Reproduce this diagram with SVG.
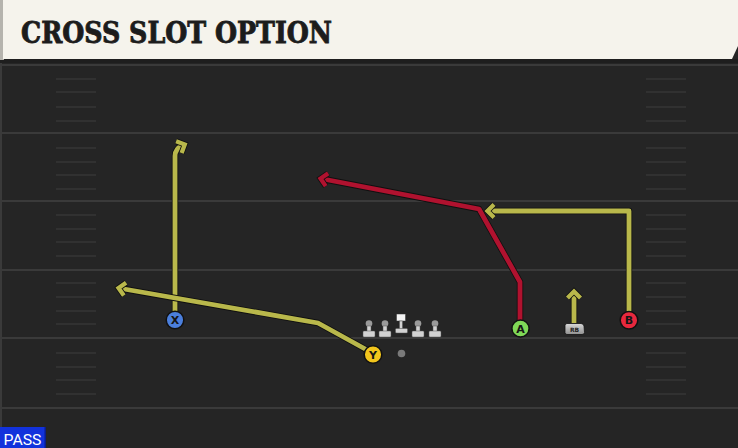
<svg xmlns="http://www.w3.org/2000/svg" width="738" height="448" viewBox="0 0 738 448">
  <style>
    .yard { stroke: #3a3a3a; stroke-width: 2; }
    .hash { stroke: #363636; stroke-width: 1.5; }
    .outline { fill: none; stroke: #101010; stroke-width: 6.4; stroke-linejoin: round; }
    .yel { fill: none; stroke: #b9b84b; stroke-width: 4.8; stroke-linejoin: round; }
    .red { fill: none; stroke: #b0122f; stroke-width: 4.8; stroke-linejoin: round; }
    .pl { stroke: #111; stroke-width: 1.5; }
    .plt { font-family: "DejaVu Sans", "Liberation Sans", sans-serif; font-weight: bold; font-size: 11px; fill: #151515; text-anchor: middle; }
    .lm-head { fill: #9a9a9a; }
    .lm-body { fill: #d2d2d2; stroke: #555; stroke-width: 0.5; }
    .mk-o { fill: none; stroke: #101010; stroke-width: 6; stroke-linejoin: miter; }
  </style>
  <defs>
    <marker id="arrY" markerUnits="userSpaceOnUse" viewBox="-12 -12 24 24" refX="0" refY="0" markerWidth="24" markerHeight="24" orient="auto" overflow="visible">
      <path class="mk-o" d="M-4,-6.5 L2.5,0 L-4,6.5"/>
      <path d="M-4,-6.5 L2.5,0 L-4,6.5" fill="none" stroke="#b9b84b" stroke-width="4.3" stroke-linejoin="miter"/>
    </marker>
    <marker id="arrR" markerUnits="userSpaceOnUse" viewBox="-12 -12 24 24" refX="0" refY="0" markerWidth="24" markerHeight="24" orient="auto" overflow="visible">
      <path class="mk-o" d="M-4,-6.5 L2.5,0 L-4,6.5"/>
      <path d="M-4,-6.5 L2.5,0 L-4,6.5" fill="none" stroke="#b0122f" stroke-width="4.3" stroke-linejoin="miter"/>
    </marker>
    <linearGradient id="rbg" x1="0" y1="0" x2="0" y2="1">
      <stop offset="0" stop-color="#d8d8d8"/>
      <stop offset="1" stop-color="#8f8f8f"/>
    </linearGradient>
  </defs>

  <!-- field -->
  <rect x="0" y="0" width="738" height="448" fill="#252525"/>
  <rect x="0" y="0" width="2" height="448" fill="#3a3a3a"/>
  <rect x="0" y="59" width="738" height="4" fill="#1e1e1e"/>

  <g id="yardlines">
    <line class="yard" x1="0" y1="65" x2="738" y2="65"/>
    <line class="yard" x1="0" y1="133" x2="738" y2="133"/>
    <line class="yard" x1="0" y1="201" x2="738" y2="201"/>
    <line class="yard" x1="0" y1="270" x2="738" y2="270"/>
    <line class="yard" x1="0" y1="338" x2="738" y2="338"/>
    <line class="yard" x1="0" y1="408" x2="738" y2="408"/>
  </g>
  <g id="hashes">
    <path class="hash" d="M56,79H96M56,92H96M56,107H96M56,121H96M56,148H96M56,162H96M56,175H96M56,189H96M56,215H96M56,229H96M56,242H96M56,256H96M56,283H96M56,297H96M56,311H96M56,324H96M56,353H96M56,367H96M56,380H96M56,394H96"/>
    <path class="hash" d="M646,79H686M646,92H686M646,107H686M646,121H686M646,148H686M646,162H686M646,175H686M646,189H686M646,215H686M646,229H686M646,242H686M646,256H686M646,283H686M646,297H686M646,311H686M646,324H686M646,353H686M646,367H686M646,380H686M646,394H686"/>
  </g>

  <!-- header -->
  <g id="header">
    <rect x="0" y="0" width="4" height="60" fill="#b5b3ad"/>
    <path d="M3,0 H738 V46 L732,59 H3 Z" fill="#f5f3ec"/>
    <text x="21" y="43" font-family="DejaVu Serif Condensed, DejaVu Serif, Liberation Serif, serif" font-weight="bold" font-size="29" fill="#1c1c1c" stroke="#1c1c1c" stroke-width="0.8" textLength="311" lengthAdjust="spacingAndGlyphs">CROSS SLOT OPTION</text>
  </g>

  <!-- connectors -->
  <g id="connectors">
    <path class="outline" d="M175,312 L175,156 Q175,149 182.5,145.5"/>
    <path class="yel" d="M175,312 L175,156 Q175,149 182.5,145.5" marker-end="url(#arrY)"/>
    <path class="outline" d="M367,350 L318,323 L121,288.5"/>
    <path class="yel" d="M367,350 L318,323 L121,288.5" marker-end="url(#arrY)"/>
    <path class="outline" d="M520,320 L520,282 L479,209 L323,179"/>
    <path class="red" d="M520,320 L520,282 L479,209 L323,179" marker-end="url(#arrR)"/>
    <path class="outline" d="M629,311 L629,211 L490,211"/>
    <path class="yel" d="M629,311 L629,211 L490,211" marker-end="url(#arrY)"/>
    <path class="outline" d="M574,323 L574,294"/>
    <path class="yel" d="M574,323 L574,294" marker-end="url(#arrY)"/>
  </g>

  <!-- line -->
  <g id="lineman-1">
    <circle class="lm-head" cx="369" cy="323.5" r="3.3"/>
    <rect class="lm-body" x="367" y="326" width="4" height="6"/>
    <rect class="lm-body" x="363" y="331" width="12" height="6" rx="1"/>
  </g>
  <g id="lineman-2">
    <circle class="lm-head" cx="385" cy="323.5" r="3.3"/>
    <rect class="lm-body" x="383" y="326" width="4" height="6"/>
    <rect class="lm-body" x="379" y="331" width="12" height="6" rx="1"/>
  </g>
  <g id="center">
    <rect x="396.5" y="314" width="9" height="7" fill="#f4f4f4" stroke="#333" stroke-width="0.5"/>
    <rect class="lm-body" x="399.5" y="321" width="3" height="8"/>
    <rect class="lm-body" x="395.5" y="328.5" width="12" height="4.5" rx="1"/>
  </g>
  <g id="lineman-4">
    <circle class="lm-head" cx="418" cy="323.5" r="3.3"/>
    <rect class="lm-body" x="416" y="326" width="4" height="6"/>
    <rect class="lm-body" x="412" y="331" width="12" height="6" rx="1"/>
  </g>
  <g id="lineman-5">
    <circle class="lm-head" cx="435" cy="323.5" r="3.3"/>
    <rect class="lm-body" x="433" y="326" width="4" height="6"/>
    <rect class="lm-body" x="429" y="331" width="12" height="6" rx="1"/>
  </g>
  <g id="ball">
    <circle cx="401.5" cy="353.5" r="3.8" fill="#7a7a7a"/>
  </g>

  <!-- skill players -->
  <g id="player-X">
    <circle class="pl" cx="175" cy="320" r="8.8" fill="#4b7fdc"/>
    <text class="plt" x="175" y="324">X</text>
  </g>
  <g id="player-Y">
    <circle class="pl" cx="373" cy="354.5" r="8.8" fill="#f2c51c"/>
    <text class="plt" x="373" y="358.5">Y</text>
  </g>
  <g id="player-A">
    <circle class="pl" cx="520.5" cy="328.5" r="8.6" fill="#7fd857"/>
    <text class="plt" x="520.5" y="332.5">A</text>
  </g>
  <g id="player-RB">
    <path d="M567,323.5 H581 Q583.5,323.5 584,326 L584.5,332.5 Q584.5,334.5 582,334.5 H567 Q565,334.5 565,332.5 V325.5 Q565,323.5 567,323.5 Z" fill="url(#rbg)" stroke="#111" stroke-width="0.8"/>
    <text x="574.5" y="331.6" font-family="DejaVu Sans, sans-serif" font-weight="bold" font-size="6" fill="#222" text-anchor="middle">RB</text>
  </g>
  <g id="player-B">
    <circle class="pl" cx="629" cy="320.3" r="8.8" fill="#e8283d"/>
    <text class="plt" x="629" y="324.3">B</text>
  </g>

  <!-- pass tag -->
  <g id="pass-tag">
    <rect x="0" y="427" width="46" height="21" fill="#0b1d8a"/>
    <rect x="0" y="427" width="44.5" height="21" fill="#1232dc"/>
    <text x="3.5" y="444.5" font-family="Roboto, Liberation Sans, sans-serif" font-size="15" fill="#ffffff" textLength="38" lengthAdjust="spacingAndGlyphs">PASS</text>
  </g>
</svg>
